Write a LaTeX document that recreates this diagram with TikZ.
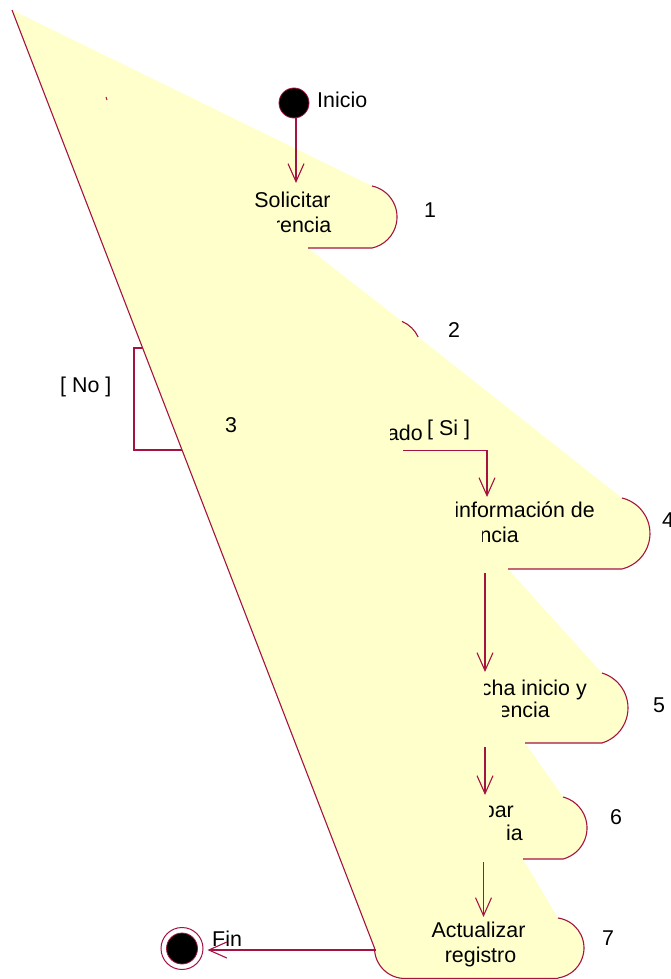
\documentclass[tikz,border=0pt]{standalone}
\usepackage{fontspec}
\setmainfont{Liberation Sans}
\usetikzlibrary{arrows.meta}
\definecolor{rosered}{RGB}{165,20,65}
\definecolor{roseyel}{RGB}{255,255,204}
\tikzset{
  edge/.style={draw=rosered, line width=1.1pt},
  arr/.style={draw=rosered, line width=1.1pt, -{Straight Barb[length=18pt,width=16pt,line width=1.1pt]}},
  txt/.style={inner sep=0pt, font=\fontsize{21.4}{25}\selectfont, text=black},
}
\begin{document}
\begin{tikzpicture}[x=1pt,y=-1pt]
\useasboundingbox (0,0) rectangle (671,979);
\fill[white] (0,0) rectangle (671,979);

% hidden [No] branch (partly covered by the yellow shape)
\coordinate (nA) at (150,348);
\coordinate (nB) at (134,348);
\coordinate (nC) at (134,450);
\coordinate (nD) at (190,450);
\draw[edge] (nA) -- (nB) -- (nC) -- (nD);

% the yellow shape
\fill[roseyel] (12,10) -- (372,186) arc[start angle=-77.8,end angle=77.8,radius=31.72]
  -- (308,248) -- (402,321.4) arc[start angle=-67.2,end angle=-24.8,radius=31]
  -- (622,498) arc[start angle=-76.5,end angle=76.5,radius=36.5]
  -- (508,569) -- (602,673) arc[start angle=-73.2,end angle=73.2,radius=36.56]
  -- (525,743) -- (563,797) arc[start angle=-75.5,end angle=75.5,radius=32.02]
  -- (523,859) -- (558,918) arc[start angle=-81.8,end angle=81.8,radius=30.31]
  -- (405,978.5) arc[start angle=90,end angle=180,radius=30.5] -- cycle;

% red outlines
\draw[edge] (12,10) -- (374.5,948) arc[start angle=180,end angle=90,radius=30.5] -- (558,978.5);
\draw[edge] (558,918) arc[start angle=-81.8,end angle=81.8,radius=30.31];
\draw[edge] (372,186) arc[start angle=-77.8,end angle=77.8,radius=31.72] -- (308,248);
\draw[edge] (402,321.4) arc[start angle=-67.2,end angle=-24.8,radius=31];
\draw[edge] (622,498) arc[start angle=-76.5,end angle=76.5,radius=36.5] -- (508,569);
\draw[edge] (602,673) arc[start angle=-73.2,end angle=73.2,radius=36.56] -- (525,743);
\draw[edge] (563,797) arc[start angle=-75.5,end angle=75.5,radius=32.02] -- (523,859);
\draw[rosered, line width=1pt] (106,97) -- (107,100);

% start and end
\node[circle, fill=black, draw=rosered, line width=0.8pt, minimum size=30pt, inner sep=0pt] (start) at (294,103) {};
\node[txt, anchor=base west] (inicio) at (317,107) {Inicio};
\node[circle, draw=rosered, fill=white, line width=1pt, minimum size=42pt, inner sep=0pt] (fin) at (182,948.5) {};
\node[circle, fill=black, draw=rosered, line width=0.8pt, minimum size=31pt, inner sep=0pt] (finc) at (fin) {};
\node[txt, anchor=base west] (finl) at (212,946) {Fin};

% connector end points
\coordinate (b1n) at (296,183);
\coordinate (b3e) at (403,450.5);
\coordinate (b4n) at (487,497);
\coordinate (b4s) at (485,573);
\coordinate (b5n) at (485,672);
\coordinate (b5s) at (485,747);
\coordinate (b6n) at (485,795);
\coordinate (b6s) at (483.5,862);
\coordinate (b7n) at (483.5,917);
\coordinate (b7w) at (376,950);

\draw[arr] (start.south -| b1n) -- (b1n);
\draw[arr] (b3e) -| (b4n);
\draw[arr] (b4s) -- (b5n);
\draw[arr] (b5s) -- (b6n);
\draw[arr] (b6s) -- (b7n);
\draw[arr] (b7w) -- ([xshift=4pt]fin.east |- b7w);

% box texts
\node[txt, anchor=base] (t1a) at (292.5,207) {Solicitar};
\begin{scope}
  \clip (277,212) rectangle (345,240);
  \node[txt, anchor=base east] (t1b) at (331.5,232) {rencia};
\end{scope}
\begin{scope}
  \clip (390,420) rectangle (426,446);
  \node[txt, anchor=base east] (t3a) at (423,440) {ado};
\end{scope}
\node[txt, anchor=base west] (si) at (427,435) {[ Si ]};
\begin{scope}
  \clip (456,495) rectangle (600,523);
  \node[txt, anchor=base east] (t4a) at (595,517) {información de};
\end{scope}
\begin{scope}
  \clip (482,523) rectangle (525,548);
  \node[txt, anchor=base east] (t4b) at (519,542) {ncia};
\end{scope}
\begin{scope}
  \clip (484,675) rectangle (592,701);
  \node[txt, anchor=base east] (t5a) at (587,695) {cha inicio y};
\end{scope}
\begin{scope}
  \clip (502,701) rectangle (555,723);
  \node[txt, anchor=base east] (t5b) at (550,717) {encia};
\end{scope}
\begin{scope}
  \clip (489,797) rectangle (520,823);
  \node[txt, anchor=base east] (t6a) at (514,817) {par};
\end{scope}
\begin{scope}
  \clip (507,823) rectangle (528,846);
  \node[txt, anchor=base east] (t6b) at (523,840) {ia};
\end{scope}
\node[txt, anchor=base] (t7a) at (478.5,937) {Actualizar};
\node[txt, anchor=base] (t7b) at (480.5,962) {registro};

% labels
\node[txt, anchor=base west] (n1) at (424,217) {1};
\node[txt, anchor=base west] (n2) at (448,337) {2};
\node[txt, anchor=base west] (n3) at (225,432) {3};
\node[txt, anchor=base west] (n4) at (662,527) {4};
\node[txt, anchor=base west] (n5) at (653,712) {5};
\node[txt, anchor=base west] (n6) at (610,824) {6};
\node[txt, anchor=base west] (n7) at (602,945) {7};
\node[txt, anchor=base west] (no) at (60,392) {[ No ]};
\end{tikzpicture}
\end{document}
